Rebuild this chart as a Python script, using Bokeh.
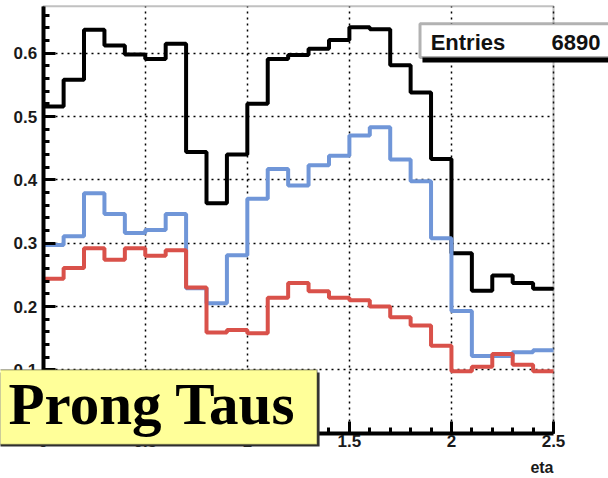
import numpy as np
from bokeh.plotting import figure
from bokeh.models import (SingleIntervalTicker, CustomJSTickFormatter, Range1d,
                          BoxAnnotation, Label)
from bokeh.embed import file_html
from bokeh.resources import INLINE

# ---- data (eta histogram, 25 bins of 0.1 from 0 to 2.5) ----
bin_width = 0.1
n_bins = 25
black_vals = [0.516, 0.558, 0.637, 0.612, 0.598, 0.591, 0.615, 0.444, 0.363, 0.440,
              0.520, 0.591, 0.597, 0.607, 0.621, 0.641, 0.638, 0.581, 0.538, 0.433,
              0.284, 0.225, 0.249, 0.237, 0.228]
blue_vals = [0.297, 0.311, 0.379, 0.346, 0.316, 0.321, 0.346, 0.229, 0.205, 0.281,
             0.370, 0.417, 0.391, 0.423, 0.438, 0.470, 0.483, 0.432, 0.398, 0.308,
             0.193, 0.122, 0.122, 0.128, 0.131]
red_vals = [0.244, 0.261, 0.292, 0.274, 0.292, 0.280, 0.289, 0.230, 0.159, 0.163,
            0.158, 0.214, 0.237, 0.224, 0.214, 0.210, 0.200, 0.183, 0.170, 0.138,
            0.098, 0.105, 0.125, 0.108, 0.098]
entries_text = "Entries"
entries_value = "6890"
title_text = "Prong Taus"
x_title = "eta"

x_lo, x_hi = 0.0, 2.5
y_lo, y_hi = 0.0, 0.674

edges = [round(i * bin_width, 2) for i in range(n_bins + 1)]

# frame covers the whole canvas; axes are pinned at x=0 / y=0
p = figure(width=608, height=478, output_backend="svg", toolbar_location=None,
           x_range=Range1d(-0.2092, 2.7694), y_range=Range1d(-0.0715, 0.6832),
           min_border_left=0, min_border_right=0, min_border_top=0,
           min_border_bottom=0)
p.background_fill_color = "white"
p.border_fill_color = "white"
p.outline_line_color = None

# axes
p.xaxis.ticker = SingleIntervalTicker(interval=0.5, num_minor_ticks=5)
p.yaxis.ticker = SingleIntervalTicker(interval=0.1, num_minor_ticks=5)
p.xaxis.formatter = CustomJSTickFormatter(code="return tick.toFixed(1).replace(/\\.0$/, '');")
p.yaxis.formatter = CustomJSTickFormatter(code="return tick.toFixed(1).replace(/^0\\.0$/, '0');")
p.xaxis.fixed_location = y_lo
p.yaxis.fixed_location = x_lo
p.xaxis.bounds = (x_lo, x_hi)
p.yaxis.bounds = (y_lo, y_hi)
for ax in (p.xaxis[0], p.yaxis[0]):
    ax.axis_line_width = 4
    ax.axis_line_color = "black"
    ax.major_tick_in = 12
    ax.major_tick_out = 0
    ax.minor_tick_in = 6
    ax.minor_tick_out = 0
    ax.major_tick_line_width = 3
    ax.minor_tick_line_width = 3
    ax.major_label_text_font = "Liberation Sans"
    ax.major_label_text_font_style = "bold"
    ax.major_label_text_font_size = "17px"
    ax.major_label_text_color = "#1a1a1a"
p.yaxis.major_label_standoff = 6
p.xaxis.major_label_standoff = 2

# grid
p.xgrid.bounds = (x_lo, x_hi)
p.ygrid.bounds = (y_lo, y_hi)
p.xgrid.cross_bounds = (y_lo, y_hi)
p.ygrid.cross_bounds = (x_lo, x_hi)
for g in (p.xgrid[0], p.ygrid[0]):
    g.grid_line_color = "black"
    g.grid_line_width = 1.5
    g.grid_line_dash = "2 4"

# frame box (top / right edges)
p.add_layout(BoxAnnotation(left=x_lo, right=x_hi, bottom=y_lo, top=y_hi,
                           fill_alpha=0, line_color="#333333", line_width=2,
                           level="underlay"))

# histograms
p.step(edges, black_vals + [black_vals[-1]], mode="after", line_color="black", line_width=4)
p.step(edges, blue_vals + [blue_vals[-1]], mode="after", line_color="#7096D8", line_width=4)
p.step(edges, red_vals + [red_vals[-1]], mode="after", line_color="#D9514A", line_width=4)

# stats box
p.add_layout(BoxAnnotation(left=1.858, right=3.0, top=0.642, bottom=0.5853,
                           fill_color="black", fill_alpha=1, line_alpha=0))
p.add_layout(BoxAnnotation(left=1.846, right=3.0, top=0.6464, bottom=0.5932,
                           fill_color="white", fill_alpha=1, line_color="black",
                           line_width=3))
p.add_layout(Label(x=1.898, y=0.6169, text=entries_text, text_align="left",
                   text_baseline="alphabetic", text_font="Liberation Sans",
                   text_font_style="bold", text_font_size="22px", text_color="#111"))
p.add_layout(Label(x=2.73, y=0.6169, text=entries_value, text_align="right",
                   text_baseline="alphabetic", text_font="Liberation Sans",
                   text_font_style="bold", text_font_size="22px", text_color="#111"))

# x title
p.add_layout(Label(x=x_hi, y=-0.0542, text=x_title, text_align="right",
                   text_baseline="alphabetic", text_font="Liberation Sans",
                   text_font_style="bold", text_font_size="16px", text_color="#1a1a1a"))

# yellow title box
p.add_layout(BoxAnnotation(left=-1.0, right=1.354, top=0.0958, bottom=-0.021,
                           fill_color="#333333", fill_alpha=1, line_alpha=0))
p.add_layout(BoxAnnotation(left=-1.0, right=1.342, top=0.1001, bottom=-0.0178,
                           fill_color="#FFFF99", fill_alpha=1, line_color="black",
                           line_width=1.5))
p.add_layout(Label(x=-0.170, y=0.0469, text=title_text, text_align="left",
                   text_baseline="alphabetic", text_font="Liberation Serif",
                   text_font_style="bold", text_font_size="59px", text_color="black"))

open("out.html", "w").write(file_html(p, INLINE))
